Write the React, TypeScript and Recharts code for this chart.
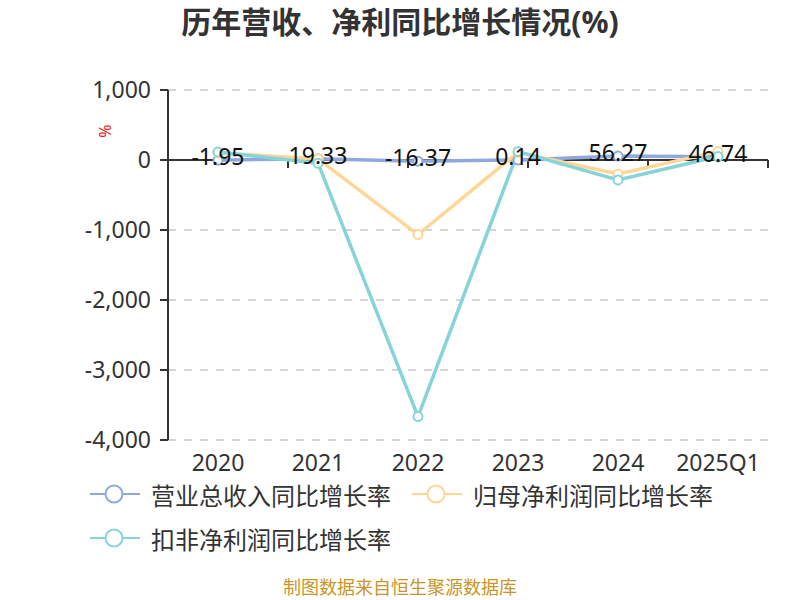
import React from "react";
import {
  LineChart, Line, XAxis, YAxis, CartesianGrid, ReferenceLine,
  Legend, LabelList,
} from "recharts";

if (typeof document !== "undefined") document.body.style.margin = "0";

const years = ["2020", "2021", "2022", "2023", "2024", "2025Q1"];
const revenueGrowth = [-1.95, 19.33, -16.37, 0.14, 56.27, 46.74];
const netProfitGrowth = [105, 15, -1065, 110, -200, 120];
const deductedProfitGrowth = [115, -45, -3665, 120, -285, 50];
const seriesNames = ["营业总收入同比增长率", "归母净利润同比增长率", "扣非净利润同比增长率"];
const yTicks = [-4000, -3000, -2000, -1000, 0, 1000];
const bandEdges = [1, 2, 3, 4, 5, 6];

const data = years.map((year, i) => ({
  year,
  revenue: revenueGrowth[i],
  netProfit: netProfitGrowth[i],
  deducted: deductedProfitGrowth[i],
}));

const FONT = "'Noto Sans', 'Noto Sans CJK SC', sans-serif";

function LegendBox(props: any) {
  const items = [...(props.payload || [])].sort(
    (a: any, b: any) => seriesNames.indexOf(a.value) - seriesNames.indexOf(b.value)
  );
  return (
    <div
      style={{
        boxSizing: "border-box",
        height: 100,
        width: 800,
        paddingLeft: 90,
        paddingTop: 2,
      }}
    >
      <div style={{ display: "flex", flexWrap: "wrap", width: 670 }}>
        {items.map((it: any) => (
          <div
            key={it.value}
            style={{
              display: "flex",
              alignItems: "center",
              height: 44,
              marginRight: 21,
            }}
          >
            <svg width={50} height={22} style={{ marginRight: 11 }}>
              <line x1={0} y1={11} x2={50} y2={11} stroke={it.color} strokeWidth={2} />
              <circle cx={24} cy={11} r={8.5} fill="#fff" stroke={it.color} strokeWidth={2} />
            </svg>
            <span style={{ fontSize: 24, color: "#333", whiteSpace: "nowrap" }}>
              {it.value}
            </span>
          </div>
        ))}
      </div>
    </div>
  );
}

export default function App() {
  return (
    <div style={{ position: "relative", width: 800, height: 600, fontFamily: FONT, background: "#fff" }}>
      <div
        style={{
          position: "absolute",
          top: 0,
          left: 0,
          width: 800,
          lineHeight: "44px",
          textAlign: "center",
          fontSize: 30,
          fontWeight: 700,
          color: "#333",
          zIndex: 2,
        }}
      >
        历年营收、净利同比增长情况(%)
      </div>
      <div
        style={{
          position: "absolute",
          left: 97,
          top: 120,
          width: 16,
          height: 22,
          lineHeight: "22px",
          textAlign: "center",
          fontSize: 16,
          color: "#e8281e",
          transform: "rotate(-90deg)",
          zIndex: 2,
        }}
      >
        %
      </div>
      <LineChart
        width={800}
        height={600}
        data={data}
        margin={{ top: 90, right: 32, left: 0, bottom: 30 }}
      >
        <CartesianGrid
          vertical={false}
          stroke="#c8c8c8"
          strokeWidth={1.5}
          strokeDasharray="8 8"
        />
        <XAxis
          dataKey="year"
          padding={{ left: 50, right: 50 }}
          axisLine={false}
          tickLine={false}
          tickSize={0}
          tickMargin={15}
          height={30}
          interval={0}
          tick={{ fill: "#333", fontSize: 23 }}
        />
        <XAxis xAxisId="edge" type="number" domain={[0, 6]} hide />
        <YAxis
          width={168}
          domain={[-4000, 1000]}
          ticks={yTicks}
          interval={0}
          tickFormatter={(v: number) => v.toLocaleString("en-US")}
          axisLine={{ stroke: "#333", strokeWidth: 2 }}
          tickLine={{ stroke: "#333", strokeWidth: 2 }}
          tickSize={8}
          tickMargin={9}
          tick={{ fill: "#333", fontSize: 23 }}
        />
        <ReferenceLine y={0} stroke="#333" strokeWidth={2} />
        {bandEdges.map((e) => (
          <ReferenceLine
            key={e}
            xAxisId="edge"
            segment={[{ x: e, y: 0 }, { x: e, y: -115 }]}
            stroke="#333"
            strokeWidth={2}
          />
        ))}
        <Legend verticalAlign="bottom" content={<LegendBox />} />
        <Line
          type="linear"
          dataKey="revenue"
          name={seriesNames[0]}
          stroke="#8eaadc"
          strokeWidth={3.5}
          dot={{ r: 4.5, fill: "#fff", stroke: "#8eaadc", strokeWidth: 2 }}
          isAnimationActive={false}
        >
          <LabelList
            dataKey="revenue"
            position="top"
            offset={-5}
            fill="#111"
            fontSize={23}
            formatter={(v: number) => v.toFixed(2)}
          />
        </Line>
        <Line
          type="linear"
          dataKey="netProfit"
          name={seriesNames[1]}
          stroke="#fed797"
          strokeWidth={3.5}
          dot={{ r: 4.5, fill: "#fff", stroke: "#fed797", strokeWidth: 2 }}
          isAnimationActive={false}
        />
        <Line
          type="linear"
          dataKey="deducted"
          name={seriesNames[2]}
          stroke="#86d4d9"
          strokeWidth={3.5}
          dot={{ r: 4.5, fill: "#fff", stroke: "#86d4d9", strokeWidth: 2 }}
          isAnimationActive={false}
        />
      </LineChart>
      <div
        style={{
          position: "absolute",
          left: 0,
          top: 575,
          width: 800,
          lineHeight: "24px",
          textAlign: "center",
          fontSize: 18,
          color: "#c8952a",
        }}
      >
        制图数据来自恒生聚源数据库
      </div>
    </div>
  );
}
